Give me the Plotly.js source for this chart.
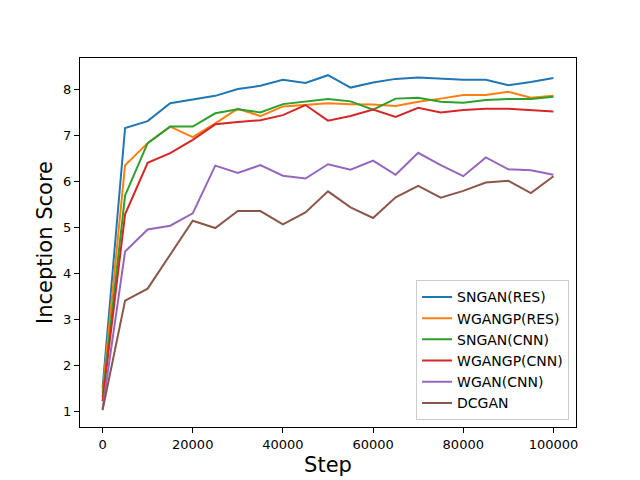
<!DOCTYPE html>
<html>
<head>
<meta charset="utf-8">
<script src="https://cdn.plot.ly/plotly-3.0.1.min.js"></script>
<style>html,body{margin:0;padding:0;background:#fff;}#chart{width:640px;height:480px;}</style>
</head>
<body>
<div id="chart"></div>
<script>
const steps = [0,5000,10000,15000,20000,25000,30000,35000,40000,45000,50000,55000,60000,65000,70000,75000,80000,85000,90000,95000,100000];
const sngan_res   = [1.50,7.17,7.32,7.71,7.79,7.87,8.02,8.09,8.22,8.15,8.32,8.05,8.16,8.24,8.27,8.25,8.22,8.22,8.10,8.17,8.26];
const wgangp_res  = [1.40,6.36,6.84,7.20,6.97,7.27,7.59,7.43,7.64,7.67,7.71,7.69,7.68,7.65,7.74,7.81,7.89,7.89,7.96,7.83,7.87];
const sngan_cnn   = [1.30,5.70,6.84,7.20,7.20,7.49,7.58,7.51,7.69,7.74,7.80,7.75,7.57,7.81,7.83,7.74,7.72,7.78,7.80,7.80,7.85];
const wgangp_cnn  = [1.22,5.29,6.41,6.62,6.91,7.25,7.30,7.34,7.45,7.67,7.33,7.43,7.57,7.41,7.61,7.51,7.56,7.59,7.59,7.56,7.53];
const wgan_cnn    = [1.05,4.48,4.96,5.04,5.31,6.35,6.19,6.36,6.13,6.07,6.38,6.26,6.46,6.15,6.63,6.36,6.12,6.53,6.27,6.25,6.15];
const dcgan       = [1.02,3.41,3.67,4.41,5.15,4.99,5.36,5.36,5.07,5.33,5.79,5.44,5.21,5.66,5.91,5.65,5.80,5.98,6.02,5.75,6.12];
const names = ["SNGAN(RES)","WGANGP(RES)","SNGAN(CNN)","WGANGP(CNN)","WGAN(CNN)","DCGAN"];
const colors = ["#1f77b4","#ff7f0e","#2ca02c","#d62728","#9467bd","#8c564b"];
const series = [sngan_res,wgangp_res,sngan_cnn,wgangp_cnn,wgan_cnn,dcgan];
const traces = series.map((s,i)=>({x:steps,y:s,name:names[i],type:"scatter",mode:"lines",line:{color:colors[i],width:2}}));
const axisCommon = {showline:true,mirror:true,linecolor:"#000",linewidth:1,ticks:"outside",ticklen:5,tickcolor:"#000",showgrid:false,zeroline:false,tickfont:{size:13,color:"#000"}};
const layout = {
  width:640,height:480,
  font:{family:"DejaVu Sans, sans-serif",color:"#000"},
  paper_bgcolor:"#fff",plot_bgcolor:"#fff",
  margin:{l:80,r:64,t:58,b:53},
  showlegend:true,
  xaxis:Object.assign({},axisCommon,{range:[-5000,105000],tickvals:[0,20000,40000,60000,80000,100000],ticktext:["0","20000","40000","60000","80000","100000"],title:{text:"Step",font:{size:21},standoff:6}}),
  yaxis:Object.assign({},axisCommon,{range:[0.655,8.695],tickvals:[1,2,3,4,5,6,7,8],title:{text:"Inception Score",font:{size:21},standoff:4}}),
  legend:{x:0.986,y:0.018,xanchor:"right",yanchor:"bottom",bgcolor:"rgba(255,255,255,0.8)",bordercolor:"#ccc",borderwidth:1,font:{size:14},tracegroupgap:0,itemwidth:30}
};
Plotly.newPlot("chart",traces,layout,{displayModeBar:false,staticPlot:true});
</script>
</body>
</html>
